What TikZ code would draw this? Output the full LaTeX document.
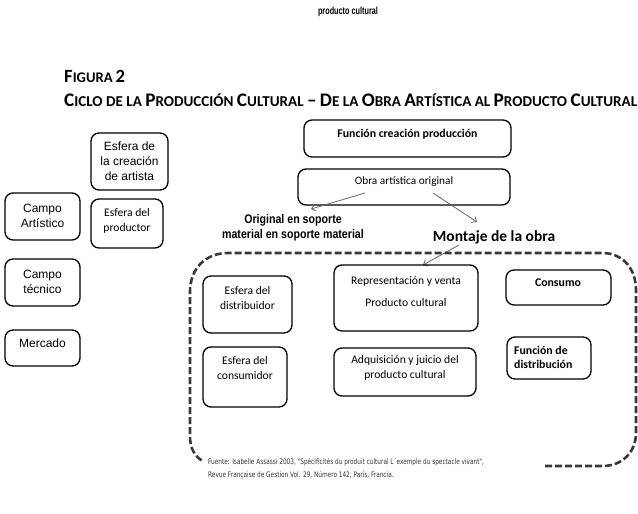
\documentclass[tikz,border=0pt]{standalone}
\usepackage{fontspec}
\usepackage{graphicx}
\setmainfont{Carlito}
\newfontfamily\arialf{Liberation Sans}
\newfontfamily\narrowf{Liberation Sans}[FakeStretch=0.85]
\newfontfamily\verdf{DejaVu Sans}[FakeStretch=0.76]
\usetikzlibrary{arrows.meta}
\newcommand\capL[1]{{\fontsize{14}{14}\selectfont #1}}
\tikzset{
 rbox/.style={draw, rounded corners=8pt, line width=1.3pt, inner sep=0pt},
 txt/.style={align=center, inner sep=0pt, font=\fontsize{11.6}{15}\selectfont},
 btxt/.style={align=center, inner sep=0pt, font=\bfseries\fontsize{11.8}{14}\selectfont},
 atxt/.style={align=center, inner sep=0pt, font=\arialf\fontsize{12}{15}\selectfont},
 arr/.style={draw=black!60, line width=0.8pt, -{Straight Barb[length=4pt,width=7pt]}},
 dashbox/.style={draw=black!78, line width=2.6pt, dash pattern=on 7pt off 3pt},
}
\begin{document}
\begin{tikzpicture}[x=1pt,y=-1pt]
\useasboundingbox (0,0) rectangle (638,514);

% headings
\node[inner sep=0] (top) at (348,12) {\resizebox{60pt}{7.5pt}{\narrowf\bfseries producto cultural}};
\node[anchor=west, inner sep=0] (fig) at (64,76) {\resizebox{61pt}{!}{\bfseries\capL{F}{\fontsize{11}{11}\selectfont IGURA} \capL{2}}};
\node[anchor=west, inner sep=0] (title) at (64,100) {\resizebox{573pt}{!}{\bfseries\fontsize{11}{11}\selectfont
 \capL{C}ICLO DE LA \capL{P}RODUCCIÓN \capL{C}ULTURAL \capL{–} \capL{D}E LA \capL{O}BRA \capL{A}RTÍSTICA AL \capL{P}RODUCTO \capL{C}ULTURAL}};

% left column boxes
\node[rbox, minimum width=77pt, minimum height=57pt] (ecr) at (129.5,161.5) {};
\node[atxt] (ecr-t) at (129.5,161) {Esfera de\\la creación\\de artista};
\node[rbox, minimum width=72pt, minimum height=49pt] (epr) at (127,223.5) {};
\node[txt] (epr-t) at (127,221) {Esfera del\\productor};
\node[rbox, minimum width=75pt, minimum height=47pt] (cart) at (42.5,216.5) {};
\node[atxt] (cart-t) at (42.5,216) {Campo\\Artístico};
\node[rbox, minimum width=75pt, minimum height=47pt] (ctec) at (42.5,282.5) {};
\node[atxt] (ctec-t) at (42.5,282) {Campo\\técnico};
\node[rbox, minimum width=75pt, minimum height=36pt] (merc) at (42.5,348) {};
\node[atxt] (merc-t) at (42.5,343) {Mercado};

% top centre boxes
\node[rbox, minimum width=207pt, minimum height=37pt] (fcp) at (407.5,138.5) {};
\node[btxt] (fcp-t) at (407.5,134) {Función creación producción};
\node[rbox, minimum width=212pt, minimum height=36pt] (obra) at (404,187) {};
\node[txt, font=\fontsize{11.3}{12}\selectfont] (obra-t) at (404,182) {Obra artística original};

% labels
\node[inner sep=0, align=center, font=\narrowf\bfseries\fontsize{12.5}{14.5}\selectfont] (orig) at (293,228) {Original en soporte\\material en soporte material};
\node[inner sep=0, font=\bfseries\fontsize{15.5}{16}\selectfont] (mont) at (494,237) {Montaje de la obra};

% arrows
\coordinate (o1s) at (365,193);
\coordinate (o1e) at (311,209);
\coordinate (o2s) at (433,193);
\coordinate (o2e) at (477,222);
\coordinate (m1s) at (459,245);
\coordinate (m1e) at (423,265);
\draw[arr] (o1s) -- (o1e);
\draw[arr] (o2s) -- (o2e);
\draw[arr] (m1s) -- (m1e);

% dashed region
\draw[dashbox] (545,466) -- (603,466) .. controls (622,466) and (636,452) .. (636,433)
  -- (636,290) .. controls (636,270) and (624,253) .. (602,253)
  -- (228,253) .. controls (206,253) and (190,268) .. (190,292)
  -- (190,436) .. controls (190,448) and (194,456) .. (204,462);

% inner boxes
\node[rbox, minimum width=89pt, minimum height=57pt] (edis) at (247.5,304.5) {};
\node[txt] (edis-t) at (247.5,298) {Esfera del\\distribuidor};
\node[rbox, minimum width=84pt, minimum height=60pt] (econ) at (245,377) {};
\node[txt] (econ-t) at (245,368) {Esfera del\\consumidor};
\node[rbox, minimum width=144pt, minimum height=66pt] (rep) at (406,298) {};
\node[txt, font=\fontsize{11.6}{22}\selectfont] (rep-t) at (406,292) {Representación y venta\\Producto cultural};
\node[rbox, minimum width=142pt, minimum height=48pt] (adq) at (405,372) {};
\node[txt] (adq-t) at (405,368) {Adquisición y juicio del\\producto cultural};
\node[rbox, minimum width=105pt, minimum height=35pt] (cons) at (558.5,287.5) {};
\node[btxt] (cons-t) at (558,283) {Consumo};
\node[rbox, minimum width=84pt, minimum height=42pt] (fdis) at (549,358) {};
\node[btxt, align=left, anchor=west] (fdis-t) at (514,357) {Función de\\distribución};

% footnote
\node[anchor=north west, align=left, inner sep=0, text=black!80,
  font=\verdf\fontsize{7.6}{13}\selectfont] (fn) at (208,458)
  {Fuente: Isabelle Assassi 2003, "Spécificités du produit cultural L´exemple du spectacle vivant",\\
   Revue Française de Gestion Vol. 29, Número 142, París, Francia.};
\end{tikzpicture}
\end{document}
